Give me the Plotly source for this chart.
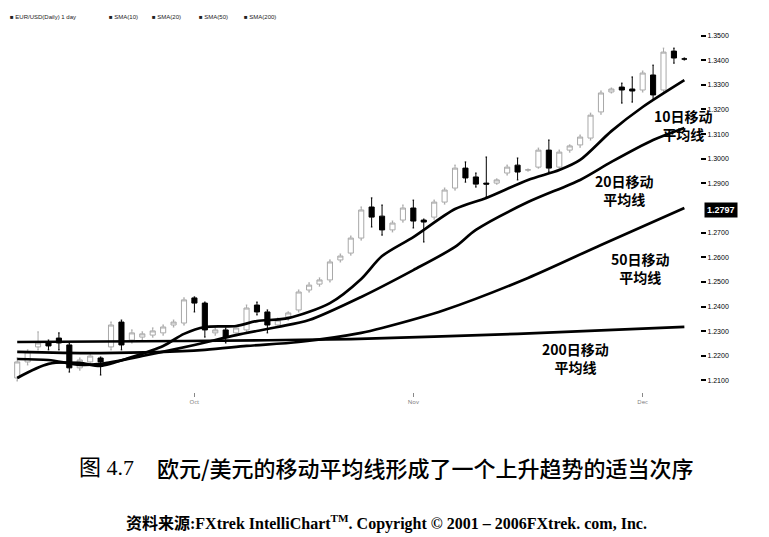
import pandas as pd
import plotly.graph_objects as go

# EUR/USD daily, Sep-Dec 2004
dates = pd.bdate_range("2004-09-08", periods=65)
bars = list(range(len(dates)))

opens = [1.2110, 1.2175, 1.2236, 1.2252, 1.2272, 1.2244, 1.2151, 1.2175, 1.2191, 1.2236,
         1.2337, 1.2264, 1.2276, 1.2284, 1.2293, 1.2325, 1.2333, 1.2435, 1.2414, 1.2293,
         1.2305, 1.2293, 1.2305, 1.2406, 1.2378, 1.2325, 1.2358, 1.2386, 1.2467, 1.2491,
         1.2508, 1.2589, 1.2617, 1.2678, 1.2804, 1.2767, 1.2711, 1.2751, 1.2800, 1.2751,
         1.2763, 1.2824, 1.2881, 1.2962, 1.2926, 1.2901, 1.2901, 1.2942, 1.2974, 1.2954,
         1.2966, 1.3035, 1.2966, 1.3035, 1.3056, 1.3084, 1.3190, 1.3271, 1.3291, 1.3283,
         1.3279, 1.3340, 1.3279, 1.3437, 1.3405]
highs = [1.2191, 1.2224, 1.2297, 1.2264, 1.2293, 1.2252, 1.2191, 1.2211, 1.2195, 1.2337,
         1.2345, 1.2305, 1.2297, 1.2313, 1.2325, 1.2345, 1.2435, 1.2439, 1.2418, 1.2313,
         1.2313, 1.2321, 1.2406, 1.2418, 1.2386, 1.2353, 1.2378, 1.2467, 1.2496, 1.2516,
         1.2589, 1.2613, 1.2686, 1.2804, 1.2841, 1.2812, 1.2747, 1.2812, 1.2832, 1.2755,
         1.2832, 1.2881, 1.2974, 1.2987, 1.2942, 1.3007, 1.2918, 1.2974, 1.3003, 1.2958,
         1.3043, 1.3076, 1.3035, 1.3056, 1.3096, 1.3185, 1.3275, 1.3287, 1.3307, 1.3332,
         1.3356, 1.3380, 1.3449, 1.3449, 1.3409]
lows = [1.2098, 1.2163, 1.2224, 1.2224, 1.2224, 1.2134, 1.2142, 1.2163, 1.2122, 1.2224,
        1.2224, 1.2252, 1.2264, 1.2276, 1.2284, 1.2317, 1.2325, 1.2378, 1.2276, 1.2284,
        1.2252, 1.2284, 1.2297, 1.2366, 1.2293, 1.2317, 1.2345, 1.2378, 1.2459, 1.2483,
        1.2500, 1.2581, 1.2609, 1.2670, 1.2723, 1.2690, 1.2703, 1.2743, 1.2719, 1.2662,
        1.2755, 1.2816, 1.2873, 1.2905, 1.2885, 1.2845, 1.2897, 1.2934, 1.2914, 1.2950,
        1.2962, 1.2946, 1.2962, 1.3027, 1.3047, 1.3076, 1.3181, 1.3267, 1.3226, 1.3230,
        1.3271, 1.3238, 1.3267, 1.3388, 1.3401]
closes = [1.2175, 1.2216, 1.2252, 1.2240, 1.2252, 1.2151, 1.2183, 1.2199, 1.2175, 1.2325,
          1.2244, 1.2293, 1.2289, 1.2301, 1.2317, 1.2337, 1.2427, 1.2414, 1.2305, 1.2305,
          1.2276, 1.2313, 1.2394, 1.2378, 1.2325, 1.2345, 1.2374, 1.2459, 1.2487, 1.2508,
          1.2581, 1.2605, 1.2678, 1.2792, 1.2763, 1.2711, 1.2739, 1.2800, 1.2747, 1.2743,
          1.2824, 1.2873, 1.2962, 1.2922, 1.2897, 1.2897, 1.2914, 1.2966, 1.2946, 1.2955,
          1.3035, 1.2962, 1.3027, 1.3052, 1.3088, 1.3177, 1.3267, 1.3283, 1.3279, 1.3275,
          1.3348, 1.3259, 1.3433, 1.3409, 1.3405]

# moving averages, sampled along each line
ma10_idx = [0, 3, 6, 8, 11, 14, 16, 18, 21, 23, 26, 30, 33, 35, 38, 42, 45, 49, 52, 54, 57, 60, 64]
ma10_val = [1.2110, 1.2167, 1.2171, 1.2159, 1.2195, 1.2240, 1.2289, 1.2317, 1.2321, 1.2341, 1.2353,
            1.2414, 1.2512, 1.2605, 1.2682, 1.2796, 1.2841, 1.2914, 1.2954, 1.2995, 1.3112, 1.3210, 1.3319]
ma20_idx = [0, 3, 6, 8, 12, 17, 21, 25, 28, 33, 38, 42, 44, 49, 54, 57, 61, 64]
ma20_val = [1.2187, 1.2183, 1.2163, 1.2167, 1.2199, 1.2244, 1.2284, 1.2317, 1.2345, 1.2439,
            1.2548, 1.2642, 1.2711, 1.2824, 1.2914, 1.2987, 1.3076, 1.3125]
ma50_idx = [0, 8, 18, 22, 27, 33, 35, 41, 49, 56, 64]
ma50_val = [1.2216, 1.2211, 1.2224, 1.2240, 1.2256, 1.2293, 1.2313, 1.2386, 1.2516, 1.2650, 1.2800]
ma200_idx = [0, 16, 32, 48, 64]
ma200_val = [1.2256, 1.2260, 1.2268, 1.2289, 1.2317]

price_ticks = [1.21, 1.22, 1.23, 1.24, 1.25, 1.26, 1.27, 1.29, 1.30, 1.31, 1.32, 1.33, 1.34, 1.35]
last_label = "1.2797"
month_idx = [17, 38, 60]
month_text = ["Oct", "Nov", "Dec"]
legend_items = ["EUR/USD(Daily) 1 day", "SMA(10)", "SMA(20)", "SMA(50)", "SMA(200)"]

# plot area in figure pixels (the page adds an 8px body margin)
L, R, T, B = 4, 692, 16, 384
W_PLOT, H_PLOT = R - L, B - T


def px(xp):
    return (xp - 8 - L) / W_PLOT


def py(yp):
    return (B - (yp - 8)) / H_PLOT


fig = go.Figure()
fig.add_trace(go.Candlestick(
    x=bars, open=opens, high=highs, low=lows, close=closes,
    increasing=dict(line=dict(color="#a8a8a8", width=1), fillcolor="white"),
    decreasing=dict(line=dict(color="black", width=1), fillcolor="black"),
    whiskerwidth=0.3,
))
for idx, val in [(ma10_idx, ma10_val), (ma20_idx, ma20_val),
                 (ma50_idx, ma50_val), (ma200_idx, ma200_val)]:
    fig.add_trace(go.Scatter(x=idx, y=val, mode="lines",
                             line=dict(color="black", width=2.7, shape="spline", smoothing=0.8)))

cjk = "Noto Sans CJK SC"
labels = [("10日移动<br>平均线", 63.9, 1.3137),
          ("20日移动<br>平均线", 58.3, 1.2873),
          ("50日移动<br>平均线", 59.8, 1.2556),
          ("200日移动<br>平均线", 53.6, 1.2191)]
for txt, xx, yy in labels:
    fig.add_annotation(x=xx, y=yy, xref="x", yref="y", text="<b>" + txt + "</b>",
                       showarrow=False, font=dict(family=cjk, size=14, color="black"))

# current value box on the price axis
fig.add_annotation(x=1, y=1.2792, xref="paper", yref="y", xanchor="left", xshift=4,
                   text="<b>" + last_label + "</b>", showarrow=False, bgcolor="black",
                   font=dict(family="Liberation Sans", size=9, color="white"), borderpad=2)

# legend strip at top
for name, xp in zip(legend_items, [8, 107, 150, 197, 242]):
    fig.add_annotation(x=px(xp), y=py(17), xref="paper", yref="paper", xanchor="left",
                       yanchor="middle", text="■ " + name, showarrow=False,
                       font=dict(family="Liberation Sans", size=6, color="#222"))

serif = "Liberation Serif, Noto Sans CJK SC"
fig.add_annotation(x=px(77), y=py(467), xref="paper", yref="paper", xanchor="left",
                   yanchor="middle", text="图 4.7", showarrow=False,
                   font=dict(family="Liberation Serif, " + cjk, size=22, color="black"))
fig.add_annotation(x=px(155), y=py(467), xref="paper", yref="paper", xanchor="left",
                   yanchor="middle", text="欧元/美元的移动平均线形成了一个上升趋势的适当次序",
                   showarrow=False, font=dict(family=cjk, size=22, color="black", weight=500))
fig.add_annotation(x=px(386), y=py(522), xref="paper", yref="paper", yanchor="middle",
                   text="<b>资料来源:FXtrek IntelliChart<sup>TM</sup>. Copyright © 2001 – 2006FXtrek. com, Inc.</b>",
                   showarrow=False, font=dict(family=serif, size=16, color="black"))

fig.update_layout(
    width=769, height=537,
    margin=dict(l=L, r=769 - R, t=T, b=537 - B),
    plot_bgcolor="white", paper_bgcolor="white",
    showlegend=False,
)
fig.update_xaxes(range=[-0.5, 65.5], rangeslider_visible=False, showgrid=False, zeroline=False,
                 showline=False, tickvals=month_idx, ticktext=month_text, ticks="outside",
                 ticklen=4, tickcolor="#888", tickfont=dict(size=6, color="#777"))
fig.update_yaxes(side="right", range=[1.2053, 1.3547], tickvals=price_ticks,
                 ticktext=["%.4f" % v for v in price_ticks], ticks="outside", ticklen=5,
                 tickwidth=1.5, tickcolor="black", showgrid=False, zeroline=False, showline=False,
                 tickfont=dict(family="Liberation Sans", size=7, color="black"))

fig.write_html("out.html")
